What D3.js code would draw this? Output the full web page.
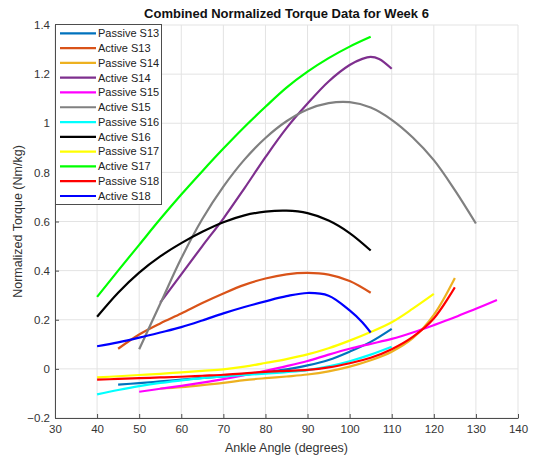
<!DOCTYPE html>
<html lang="en">
<head>
<meta charset="utf-8">
<title>Combined Normalized Torque Data for Week 6</title>
<script src="https://cdn.jsdelivr.net/npm/d3@7"></script>
<style>
  body { margin: 0; background: #fff; }
  svg text { font-family: "Liberation Sans", Arial, sans-serif; }
</style>
</head>
<body>
<script>
// [angle (deg), torque (Nm/kg)]
var passiveS13 = [[45,-0.064],[50,-0.058],[55,-0.051],[60,-0.044],[65,-0.037],[70,-0.031],[75,-0.024],[80,-0.014],[85,-0.002],[90,0.014],[95,0.036],[100,0.07],[105,0.11],[110,0.163]];
var activeS13 = [[45,0.082],[50,0.14],[55,0.185],[60,0.225],[65,0.268],[70,0.307],[75,0.342],[80,0.368],[85,0.385],[90,0.391],[95,0.384],[100,0.358],[105,0.31]];
var passiveS14 = [[55,-0.08],[60,-0.074],[65,-0.066],[70,-0.057],[75,-0.046],[80,-0.038],[85,-0.031],[90,-0.023],[95,-0.01],[100,0.009],[105,0.035],[110,0.07],[115,0.125],[120,0.22],[125,0.37]];
var activeS14 = [[55,0.27],[60,0.385],[65,0.5],[70,0.612],[75,0.735],[80,0.862],[85,0.98],[90,1.08],[95,1.17],[100,1.237],[103,1.262],[105,1.27],[107,1.262],[110,1.222]];
var passiveS15 = [[50,-0.093],[55,-0.081],[60,-0.069],[65,-0.056],[70,-0.042],[75,-0.026],[80,-0.008],[85,0.011],[90,0.032],[95,0.058],[100,0.082],[105,0.102],[110,0.122],[115,0.148],[120,0.178],[125,0.21],[130,0.245],[135,0.28]];
var activeS15 = [[50,0.08],[55,0.265],[60,0.45],[65,0.61],[70,0.742],[75,0.852],[80,0.94],[85,1.008],[90,1.056],[95,1.082],[100,1.086],[105,1.064],[110,1.014],[115,0.942],[120,0.85],[125,0.728],[130,0.592]];
var passiveS16 = [[40,-0.104],[45,-0.086],[50,-0.07],[55,-0.057],[60,-0.047],[65,-0.038],[70,-0.031],[75,-0.025],[80,-0.019],[85,-0.013],[90,-0.005],[95,0.01],[100,0.031],[105,0.058],[110,0.09]];
var activeS16 = [[40,0.212],[45,0.31],[50,0.392],[55,0.458],[60,0.512],[65,0.558],[70,0.597],[75,0.625],[80,0.64],[85,0.644],[90,0.634],[95,0.604],[100,0.553],[105,0.482]];
var passiveS17 = [[40,-0.035],[45,-0.03],[50,-0.025],[55,-0.02],[60,-0.014],[65,-0.008],[70,-0.002],[75,0.009],[80,0.024],[85,0.04],[90,0.059],[95,0.084],[100,0.115],[105,0.15],[110,0.19],[115,0.245],[120,0.305]];
var activeS17 = [[40,0.293],[45,0.4],[50,0.505],[55,0.61],[60,0.71],[65,0.805],[70,0.897],[75,0.985],[80,1.067],[85,1.145],[90,1.21],[95,1.265],[100,1.312],[105,1.352]];
var passiveS18 = [[40,-0.044],[45,-0.041],[50,-0.038],[55,-0.035],[60,-0.032],[65,-0.028],[70,-0.024],[75,-0.018],[80,-0.012],[85,-0.008],[90,-0.004],[95,0.006],[100,0.023],[105,0.045],[110,0.08],[115,0.13],[120,0.205],[125,0.332]];
var activeS18 = [[40,0.092],[45,0.108],[50,0.127],[55,0.148],[60,0.17],[65,0.197],[70,0.226],[75,0.252],[80,0.275],[85,0.296],[90,0.309],[95,0.298],[100,0.238],[103,0.19],[105,0.148]];

var seriesNames = ["Passive S13","Active S13","Passive S14","Active S14","Passive S15","Active S15","Passive S16","Active S16","Passive S17","Active S17","Passive S18","Active S18"];
var seriesColors = ["#0072BD","#D95319","#EDB120","#7E2F8E","#FF00FF","#808080","#00FFFF","#000000","#FFFF00","#00FF00","#FF0000","#0000FF"];
var seriesData = [passiveS13, activeS13, passiveS14, activeS14, passiveS15, activeS15, passiveS16, activeS16, passiveS17, activeS17, passiveS18, activeS18];

var xTicks = [30,40,50,60,70,80,90,100,110,120,130,140];
var yTicks = [-0.2,0,0.2,0.4,0.6,0.8,1,1.2,1.4];

var W = 539, H = 459;
var plotL = 55, plotR = 518, plotT = 25, plotB = 418;

var svg = d3.select("body").append("svg").attr("width", W).attr("height", H);

var x = d3.scaleLinear().domain([30, 140]).range([plotL, plotR]);
var y = d3.scaleLinear().domain([-0.2, 1.4]).range([plotB, plotT]);

// grid
svg.append("g").selectAll("line").data(xTicks).enter().append("line")
    .attr("x1", function(d) { return x(d); }).attr("x2", function(d) { return x(d); })
    .attr("y1", plotT).attr("y2", plotB)
    .attr("stroke", "#e3e3e3").attr("stroke-width", 1);
svg.append("g").selectAll("line").data(yTicks).enter().append("line")
    .attr("y1", function(d) { return y(d); }).attr("y2", function(d) { return y(d); })
    .attr("x1", plotL).attr("x2", plotR)
    .attr("stroke", "#e3e3e3").attr("stroke-width", 1);

// curves
var line = d3.line()
    .x(function(d) { return x(d[0]); })
    .y(function(d) { return y(d[1]); })
    .curve(d3.curveCatmullRom.alpha(0.5));

svg.append("g").selectAll("path").data(seriesData).enter().append("path")
    .attr("d", line)
    .attr("fill", "none")
    .attr("stroke", function(d, i) { return seriesColors[i]; })
    .attr("stroke-width", 2.2);

// axes
var xAxis = svg.append("g").attr("transform", "translate(0," + plotB + ")")
    .call(d3.axisBottom(x).tickValues(xTicks).tickSize(-4).tickSizeOuter(0).tickPadding(7));
var yAxis = svg.append("g").attr("transform", "translate(" + plotL + ",0)")
    .call(d3.axisLeft(y).tickValues(yTicks).tickSize(-4).tickSizeOuter(0).tickPadding(5)
        .tickFormat(function(d) { return d3.format("")(+d.toFixed(1)); }));

[xAxis, yAxis].forEach(function(a) {
    a.select(".domain").attr("stroke", "#4d4d4d");
    a.selectAll(".tick line").attr("stroke", "#4d4d4d");
    a.selectAll(".tick text").attr("fill", "#333").style("font-size", "11.5px")
        .style("font-family", "'Liberation Sans', Arial, sans-serif");
});

// title and labels
svg.append("text").attr("x", (plotL + plotR) / 2).attr("y", 18)
    .attr("text-anchor", "middle").style("font-size", "13px").style("font-weight", "bold")
    .attr("fill", "#111").text("Combined Normalized Torque Data for Week 6");
svg.append("text").attr("x", (plotL + plotR) / 2).attr("y", 452)
    .attr("text-anchor", "middle").style("font-size", "12.5px")
    .attr("fill", "#333").text("Ankle Angle (degrees)");
svg.append("text").attr("transform", "translate(22," + ((plotT + plotB) / 2) + ") rotate(-90)")
    .attr("text-anchor", "middle").style("font-size", "12.5px")
    .attr("fill", "#333").text("Normalized Torque (Nm/kg)");

// legend
var legend = svg.append("g");
legend.append("rect").attr("x", 55.5).attr("y", 24.5).attr("width", 106).attr("height", 180)
    .attr("fill", "#fff").attr("stroke", "#4d4d4d").attr("stroke-width", 1);
var rowY = d3.scaleLinear().domain([0, 11]).range([33.3, 196]);
var rows = legend.selectAll("g.row").data(seriesNames).enter().append("g")
    .attr("transform", function(d, i) { return "translate(0," + rowY(i) + ")"; });
rows.append("line").attr("x1", 60).attr("x2", 96)
    .attr("stroke", function(d, i) { return seriesColors[i]; }).attr("stroke-width", 2.2);
rows.append("text").attr("x", 98).attr("dy", "0.35em").style("font-size", "11px")
    .attr("fill", "#222").text(function(d) { return d; });
</script>
</body>
</html>
